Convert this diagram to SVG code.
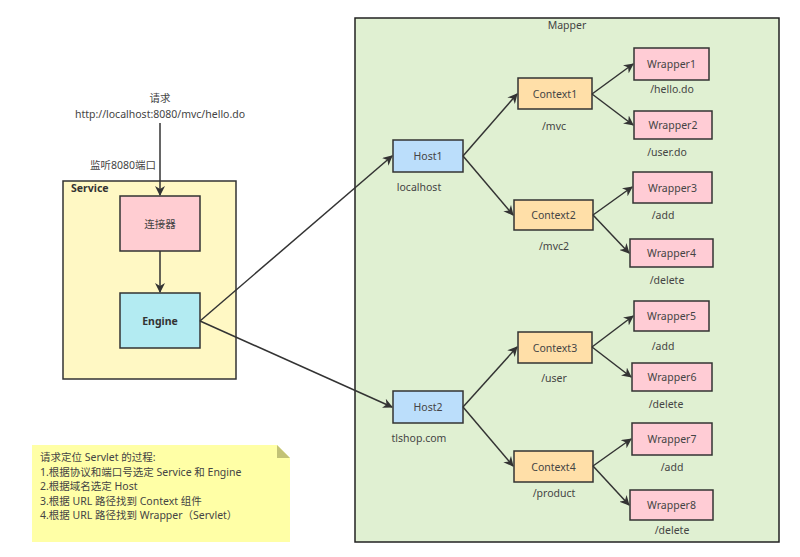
<svg xmlns="http://www.w3.org/2000/svg" width="800" height="557" viewBox="0 0 800 557">
<defs>
<marker id="arr" viewBox="0 0 10 10" refX="9" refY="5" markerWidth="10" markerHeight="10" markerUnits="userSpaceOnUse" orient="auto">
<path d="M0,0 L10,5 L0,10 L3,5 Z" fill="#333"/>
</marker>
<style>
text{font-family:"Noto Sans","Noto Sans CJK SC",sans-serif;font-size:10.5px;fill:#444;}
.c{text-anchor:middle;dominant-baseline:central;}
.box{stroke:#333;stroke-width:1.5;}
.host{fill:#bbdefb;}
.ctx{fill:#ffdfa8;}
.wr{fill:#ffccd5;}
.edge{stroke:#333;stroke-width:1.5;fill:none;marker-end:url(#arr);}
.b{font-weight:bold;fill:#333;}
</style>
</defs>
<rect width="800" height="557" fill="#fff"/>
<g id="mapper">
<rect x="355" y="18" width="424" height="524" fill="#e0f0d2" stroke="#222" stroke-width="1.5"/>
<text class="c" x="567" y="25">Mapper</text>
</g>
<g id="service">
<rect x="63" y="181" width="173" height="198" fill="#fff8c4" class="box"/>
<text class="b" x="71" y="188" dominant-baseline="central">Service</text>
</g>
<g id="request-label">
<text class="c" x="160" y="98">请求</text>
<text class="c" x="160" y="114">http://localhost:8080/mvc/hello.do</text>
</g>
<g id="listen-label"><text class="c" x="123" y="165">监听8080端口</text></g>
<g id="connector-node">
<rect x="120" y="196" width="80" height="55" fill="#ffcdd2" class="box"/>
<text class="c" x="160" y="223.5">连接器</text>
</g>
<g id="engine">
<rect x="120" y="293" width="80" height="55" fill="#b3ebf2" class="box"/>
<text class="c b" x="160" y="321">Engine</text>
</g>
<g id="host1"><rect x="393" y="140" width="70" height="32" class="box host"/><text class="c" x="428" y="156">Host1</text><text class="c" x="419" y="187">localhost</text></g>
<g id="host2"><rect x="393" y="391" width="70" height="32" class="box host"/><text class="c" x="428" y="407">Host2</text><text class="c" x="419" y="438">tlshop.com</text></g>
<g id="context1"><rect x="518" y="78" width="74" height="31" class="box ctx"/><text class="c" x="555" y="93.5">Context1</text><text class="c" x="554" y="126">/mvc</text></g>
<g id="context2"><rect x="514" y="200" width="79" height="30" class="box ctx"/><text class="c" x="553.5" y="215">Context2</text><text class="c" x="554" y="246">/mvc2</text></g>
<g id="context3"><rect x="518" y="332" width="74" height="31" class="box ctx"/><text class="c" x="555" y="347.5">Context3</text><text class="c" x="554" y="378">/user</text></g>
<g id="context4"><rect x="514" y="451" width="79" height="31" class="box ctx"/><text class="c" x="553.5" y="466.5">Context4</text><text class="c" x="554" y="493">/product</text></g>
<g id="wrapper1"><rect x="634" y="48" width="75" height="32" class="box wr"/><text class="c" x="671.5" y="64">Wrapper1</text><text class="c" x="672" y="89">/hello.do</text></g>
<g id="wrapper2"><rect x="634" y="111" width="78" height="28" class="box wr"/><text class="c" x="673" y="125">Wrapper2</text><text class="c" x="667" y="152">/user.do</text></g>
<g id="wrapper3"><rect x="633" y="172" width="79" height="31" class="box wr"/><text class="c" x="672.5" y="187.5">Wrapper3</text><text class="c" x="663" y="215">/add</text></g>
<g id="wrapper4"><rect x="630" y="239" width="83" height="28" class="box wr"/><text class="c" x="671.5" y="253">Wrapper4</text><text class="c" x="667" y="280">/delete</text></g>
<g id="wrapper5"><rect x="634" y="301" width="75" height="30" class="box wr"/><text class="c" x="671.5" y="316">Wrapper5</text><text class="c" x="663" y="346">/add</text></g>
<g id="wrapper6"><rect x="632" y="363" width="80" height="28" class="box wr"/><text class="c" x="672" y="377">Wrapper6</text><text class="c" x="666" y="404">/delete</text></g>
<g id="wrapper7"><rect x="632" y="423" width="80" height="32" class="box wr"/><text class="c" x="672" y="439">Wrapper7</text><text class="c" x="672" y="467">/add</text></g>
<g id="wrapper8"><rect x="630" y="490" width="83" height="30" class="box wr"/><text class="c" x="671.5" y="505">Wrapper8</text><text class="c" x="672" y="530">/delete</text></g>
<g id="note">
<path d="M32,445 L277,445 L290,458 L290,542 L32,542 Z" fill="#ffffa6"/>
<path d="M277,445 L290,458 L277,458 Z" fill="#c2c276"/>
<text x="40" y="461">请求定位 Servlet 的过程:</text>
<text x="40" y="475.5">1.根据协议和端口号选定 Service 和 Engine</text>
<text x="40" y="490">2.根据域名选定 Host</text>
<text x="40" y="504.5">3.根据 URL 路径找到 Context 组件</text>
<text x="40" y="519">4.根据 URL 路径找到 Wrapper（Servlet）</text>
</g>
<g id="connectors">
<path class="edge" d="M160,123 L160,195"/>
<path class="edge" d="M160,251 L160,292"/>
<path class="edge" d="M200,321 L392,156"/>
<path class="edge" d="M200,321 L392,407"/>
<path class="edge" d="M463,156 L517,94"/>
<path class="edge" d="M463,156 L513,215"/>
<path class="edge" d="M463,407 L517,347"/>
<path class="edge" d="M463,407 L513,466"/>
<path class="edge" d="M592,94 L633,64"/>
<path class="edge" d="M592,94 L633,125"/>
<path class="edge" d="M593,215 L632,187"/>
<path class="edge" d="M593,215 L629,253"/>
<path class="edge" d="M592,347 L633,316"/>
<path class="edge" d="M592,347 L631,377"/>
<path class="edge" d="M593,466 L631,439"/>
<path class="edge" d="M593,466 L629,505"/>
</g>
</svg>
